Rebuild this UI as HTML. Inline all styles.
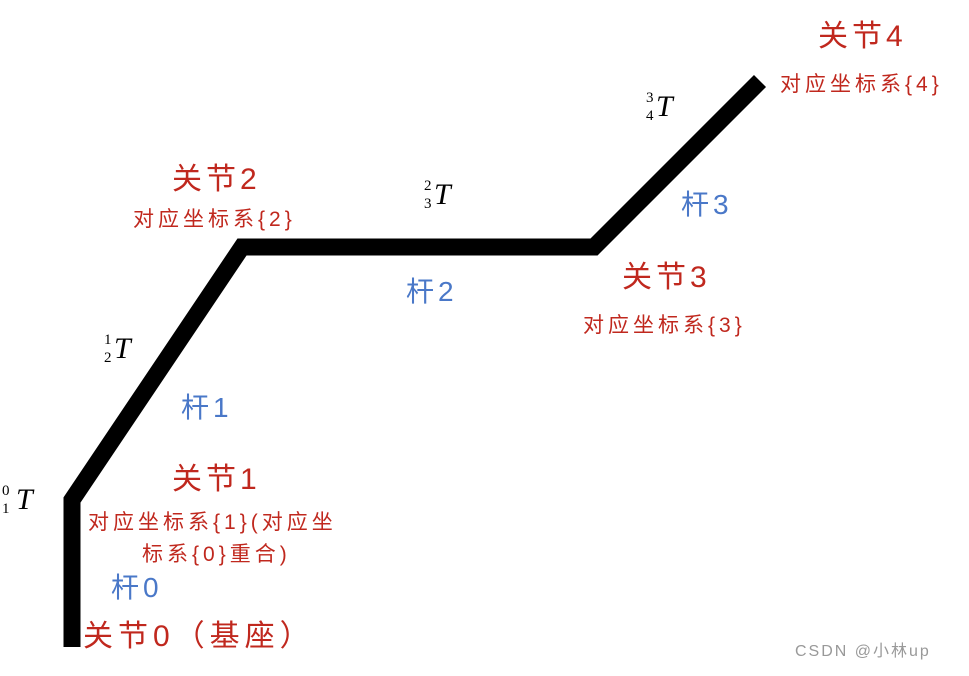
<!DOCTYPE html>
<html><head><meta charset="utf-8"><style>
body{margin:0;width:969px;height:676px;background:#fff;position:relative;overflow:hidden;font-family:"Liberation Sans","Noto Sans CJK SC",sans-serif}
.t{position:absolute;white-space:nowrap;line-height:1}
.j{color:#c0281e;font-size:30px;letter-spacing:4px}
.s{color:#c0281e;font-size:21px;letter-spacing:4px}
.b{color:#4a78c8;font-size:28px;letter-spacing:4px}
.m{position:absolute;font-family:"Liberation Serif",serif;color:#000}
.m i{font-size:30px}
.m span{position:absolute;font-size:15px;left:0}
</style></head><body>
<svg width="969" height="676" style="position:absolute;left:0;top:0">
<polyline points="72,647 72,500 242,247 594,247 760,81" fill="none" stroke="#000" stroke-width="17" stroke-linejoin="miter" stroke-linecap="butt"/>
</svg>
<div class="t j" style="left:818px;top:22px">关节4</div>
<div class="t s" style="left:780px;top:74px">对应坐标系{4}</div>
<div class="t j" style="left:172px;top:165px">关节2</div>
<div class="t s" style="left:133px;top:209px">对应坐标系{2}</div>
<div class="t j" style="left:622px;top:263px">关节3</div>
<div class="t s" style="left:583px;top:315px">对应坐标系{3}</div>
<div class="t j" style="left:172px;top:465px">关节1</div>
<div class="t s" style="left:88px;top:512px">对应坐标系{1}(对应坐</div>
<div class="t s" style="left:142px;top:544px">标系{0}重合)</div>
<div class="t j" style="left:83px;top:622px;letter-spacing:5px">关节0（基座）</div>
<div class="t b" style="left:681px;top:191px">杆3</div>
<div class="t b" style="left:406px;top:278px">杆2</div>
<div class="t b" style="left:181px;top:394px">杆1</div>
<div class="t b" style="left:111px;top:574px">杆0</div>
<div class="m" style="left:646px;top:90px"><span style="top:0">3</span><span style="top:18px">4</span><i style="margin-left:10px">T</i></div>
<div class="m" style="left:424px;top:178px"><span style="top:0">2</span><span style="top:18px">3</span><i style="margin-left:10px">T</i></div>
<div class="m" style="left:104px;top:332px"><span style="top:0">1</span><span style="top:18px">2</span><i style="margin-left:10px">T</i></div>
<div class="m" style="left:2px;top:483px"><span style="top:0">0</span><span style="top:18px">1</span><i style="margin-left:14px">T</i></div>
<div class="t" style="left:795px;top:644px;font-size:16px;color:#999;letter-spacing:2px">CSDN @小林up</div>
</body></html>
